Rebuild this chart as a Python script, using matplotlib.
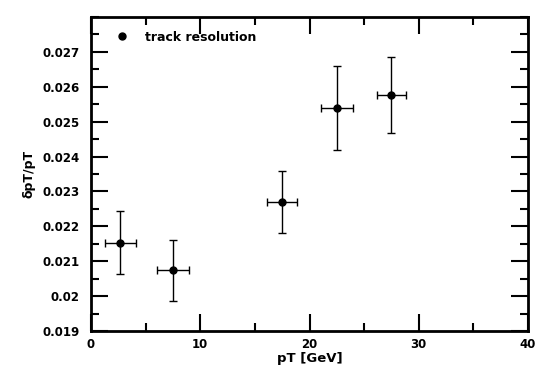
import matplotlib
matplotlib.use("Agg")
from matplotlib import pyplot as plt
from matplotlib.ticker import MultipleLocator

# track resolution vs pT
pt = [2.7, 7.5, 17.5, 22.5, 27.5]
pt_err = [1.4, 1.45, 1.35, 1.45, 1.35]
res = [0.02153, 0.02074, 0.02270, 0.02540, 0.02576]
res_err = [0.00090, 0.00088, 0.00088, 0.00120, 0.00108]

plt.rcParams["font.family"] = "DejaVu Sans"
plt.rcParams["font.weight"] = "bold"

fig = plt.figure(figsize=(5.56, 3.75), dpi=100)
ax = fig.add_axes([91 / 556, 1 - 331 / 375, 437 / 556, 314 / 375])

ax.errorbar(pt, res, xerr=pt_err, yerr=res_err, fmt="o", color="black",
            markersize=5, elinewidth=1, capsize=3, capthick=1)
# legend shows just the marker
ax.plot([], [], "o", color="black", markersize=5, label="track resolution")

ax.set_xlim(0, 40)
ax.set_ylim(0.019, 0.028)
ax.xaxis.set_major_locator(MultipleLocator(10))
ax.xaxis.set_minor_locator(MultipleLocator(5))
ax.yaxis.set_minor_locator(MultipleLocator(0.0005))
ax.set_yticks([0.019, 0.02, 0.021, 0.022, 0.023, 0.024, 0.025, 0.026, 0.027])
ax.set_yticklabels(["0.019", "0.02", "0.021", "0.022", "0.023", "0.024",
                    "0.025", "0.026", "0.027"])

ax.tick_params(which="both", direction="in", top=True, right=True,
               width=1.5, labelsize=8.5)
ax.tick_params(which="major", length=12)
ax.tick_params(which="minor", length=6)
ax.tick_params(axis="y", pad=8)
ax.tick_params(axis="x", pad=5)
for s in ax.spines.values():
    s.set_linewidth(2)

ax.set_xlabel("pT [GeV]", fontsize=9.5, fontweight="bold", labelpad=1)
ax.set_ylabel("δpT/pT", fontsize=9, fontweight="bold", labelpad=5)

leg = ax.legend(loc="upper left", bbox_to_anchor=(0.054, 0.957),
                frameon=False, fontsize=9, handlelength=1.2,
                handletextpad=1.2, borderaxespad=0, borderpad=0)
for t in leg.get_texts():
    t.set_fontweight("bold")

plt.savefig("out.png", dpi=100)
